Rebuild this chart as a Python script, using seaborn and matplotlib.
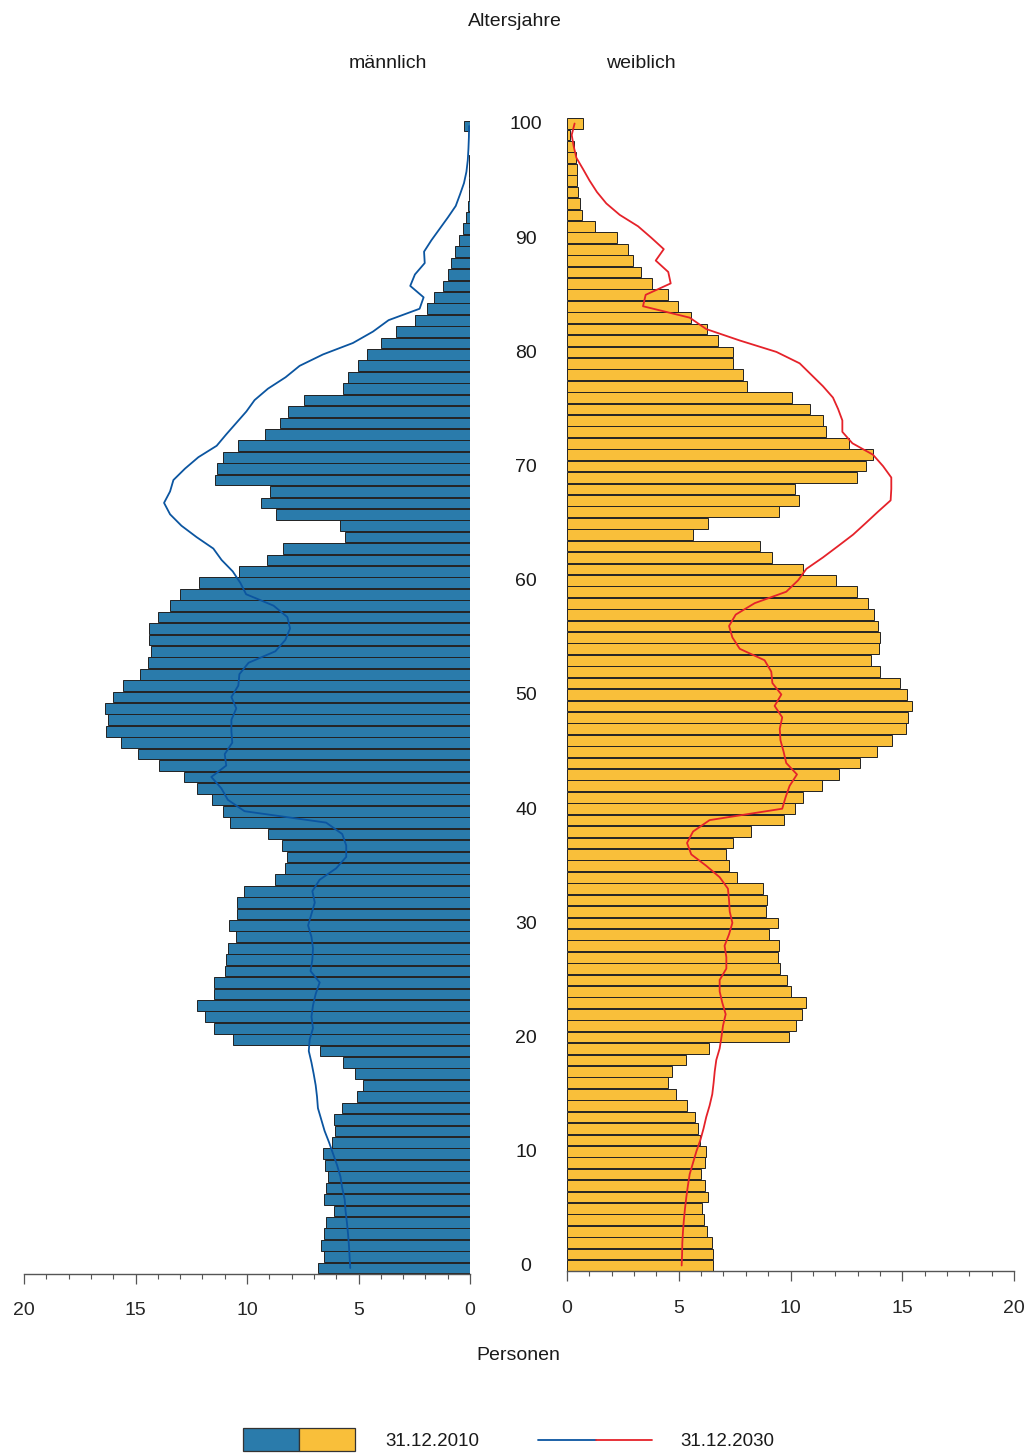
import matplotlib
matplotlib.use("Agg")
import matplotlib.pyplot as plt
import matplotlib.transforms as mtransforms
from matplotlib.patches import Rectangle
from matplotlib.ticker import MultipleLocator
import seaborn as sns

# Altersjahre 0..100, Anteile in Personen (gelesen aus der Vorlage)
ages = list(range(101))

male_2010 = [
    6.80, 6.53, 6.68, 6.55, 6.46, 6.10, 6.55, 6.46, 6.35, 6.49,
    6.59, 6.19, 6.04, 6.08, 5.72, 5.08, 4.81, 5.16, 5.70, 6.73,
    10.63, 11.48, 11.89, 12.25, 11.48, 11.48, 10.99, 10.96, 10.85, 10.49,
    10.79, 10.46, 10.45, 10.13, 8.76, 8.30, 8.19, 8.43, 9.08, 10.76,
    11.06, 11.55, 12.23, 12.82, 13.93, 14.89, 15.65, 16.32, 16.25, 16.37,
    16.01, 15.56, 14.78, 14.44, 14.32, 14.39, 14.39, 13.99, 13.45, 13.00,
    12.15, 10.34, 9.10, 8.39, 5.59, 5.81, 8.68, 9.37, 8.98, 11.43,
    11.33, 11.09, 10.42, 9.19, 8.52, 8.15, 7.43, 5.70, 5.49, 5.02,
    4.62, 3.98, 3.30, 2.47, 1.94, 1.61, 1.20, 0.97, 0.84, 0.67,
    0.51, 0.31, 0.16, 0.09, 0.06, 0.05, 0.04, 0.03, 0.02, 0.02,
    0.27,
]

male_2030 = [
    5.37, 5.40, 5.43, 5.47, 5.52, 5.58, 5.62, 5.73, 5.81, 5.96,
    6.14, 6.32, 6.52, 6.67, 6.82, 6.86, 6.92, 7.01, 7.11, 7.23,
    7.19, 7.04, 7.11, 7.04, 6.92, 6.74, 7.15, 7.07, 7.04, 7.11,
    7.26, 7.11, 6.96, 7.07, 6.74, 6.00, 5.55, 5.55, 5.73, 6.45,
    10.11, 10.86, 11.15, 11.60, 10.93, 11.00, 10.66, 10.70, 10.70, 10.48,
    10.70, 10.39, 10.34, 9.93, 8.73, 8.28, 8.07, 8.19, 8.81, 10.04,
    10.30, 10.64, 11.14, 11.51, 12.26, 12.94, 13.45, 13.72, 13.45, 13.30,
    12.78, 12.18, 11.36, 10.93, 10.48, 10.03, 9.66, 9.06, 8.27, 7.64,
    6.59, 5.25, 4.35, 3.65, 2.26, 2.08, 2.68, 2.47, 2.03, 2.06,
    1.73, 1.36, 0.99, 0.64, 0.45, 0.27, 0.16, 0.10, 0.07, 0.05,
    0.04,
]

female_2010 = [
    6.53, 6.52, 6.49, 6.26, 6.13, 6.04, 6.29, 6.17, 6.00, 6.16,
    6.22, 5.94, 5.86, 5.73, 5.37, 4.88, 4.53, 4.68, 5.31, 6.37,
    9.95, 10.25, 10.51, 10.68, 10.02, 9.84, 9.52, 9.44, 9.49, 9.05,
    9.44, 8.90, 8.95, 8.77, 7.61, 7.25, 7.11, 7.41, 8.23, 9.72,
    10.22, 10.56, 11.42, 12.17, 13.12, 13.89, 14.56, 15.18, 15.26, 15.45,
    15.21, 14.90, 14.00, 13.62, 13.94, 13.99, 13.90, 13.74, 13.48, 12.98,
    12.05, 10.56, 9.16, 8.65, 5.64, 6.32, 9.47, 10.38, 10.20, 12.98,
    13.38, 13.69, 12.62, 11.57, 11.45, 10.87, 10.07, 8.05, 7.87, 7.44,
    7.43, 6.77, 6.28, 5.53, 4.97, 4.52, 3.82, 3.30, 2.95, 2.73,
    2.24, 1.27, 0.67, 0.57, 0.48, 0.45, 0.45, 0.39, 0.30, 0.12,
    0.73,
]

female_2030 = [
    5.13, 5.15, 5.16, 5.19, 5.23, 5.28, 5.34, 5.41, 5.49, 5.64,
    5.79, 5.97, 6.11, 6.23, 6.38, 6.50, 6.56, 6.61, 6.68, 6.83,
    6.91, 6.98, 7.10, 6.95, 6.83, 6.83, 7.13, 7.13, 7.05, 7.25,
    7.40, 7.28, 7.25, 7.20, 6.83, 6.23, 5.56, 5.37, 5.64, 6.38,
    9.63, 9.78, 9.96, 10.29, 9.81, 9.69, 9.55, 9.52, 9.63, 9.29,
    9.59, 9.19, 9.14, 8.84, 7.73, 7.40, 7.25, 7.55, 8.40, 9.81,
    10.34, 10.71, 11.45, 12.13, 12.80, 13.36, 13.91, 14.48, 14.51, 14.51,
    14.14, 13.69, 12.77, 12.32, 12.32, 12.13, 11.90, 11.45, 10.93, 10.41,
    9.37, 7.73, 6.23, 5.49, 3.40, 3.52, 4.64, 4.53, 3.97, 4.33,
    3.77, 3.18, 2.36, 1.76, 1.34, 1.01, 0.72, 0.42, 0.30, 0.21,
    0.34,
]

x_ticks = [0, 5, 10, 15, 20]
age_ticks = list(range(0, 101, 10))

BLUE_BAR = "#2A7BAB"
YELLOW_BAR = "#F9BF3A"
BLUE_LINE = "#0B55A0"
RED_LINE = "#E5222A"
EDGE = "#222222"
AXIS = "#555555"

sns.set_theme(style="white")
plt.rcParams["font.family"] = ["Liberation Sans", "DejaVu Sans"]
plt.rcParams["text.color"] = "#1a1a1a"

W, H = 1032, 1455
fig = plt.figure(figsize=(W / 100, H / 100), dpi=100)


def px_axes(left, right, bottom, top):
    return fig.add_axes([left / W, (H - bottom) / H, (right - left) / W, (bottom - top) / H])


ax_m = px_axes(24, 470, 1273.7, 114.6)
ax_f = px_axes(567, 1014, 1271.2, 112.1)

sns.barplot(x=male_2010, y=ages, orient="y", native_scale=True, ax=ax_m,
            color=BLUE_BAR, saturation=1, edgecolor=EDGE, linewidth=0.7,
            width=0.94, errorbar=None)
sns.barplot(x=female_2010, y=ages, orient="y", native_scale=True, ax=ax_f,
            color=YELLOW_BAR, saturation=1, edgecolor=EDGE, linewidth=0.7,
            width=0.94, errorbar=None)

sns.lineplot(x=male_2030, y=ages, sort=False, estimator=None, orient="y",
             ax=ax_m, color=BLUE_LINE, linewidth=1.3)
sns.lineplot(x=female_2030, y=ages, sort=False, estimator=None, orient="y",
             ax=ax_f, color=RED_LINE, linewidth=1.3)

for ax in (ax_m, ax_f):
    ax.set_ylim(-0.5, 101)
    ax.set_xlabel("")
    ax.set_ylabel("")
    ax.set_yticks([])
    ax.set_xticks(x_ticks)
    ax.set_xticklabels([str(t) for t in x_ticks])
    ax.xaxis.set_minor_locator(MultipleLocator(1))
    ax.tick_params(axis="x", which="major", direction="out", length=7.5,
                   width=0.9, color=AXIS, labelsize=14, pad=13, bottom=True)
    ax.tick_params(axis="x", which="minor", direction="out", length=3.5,
                   width=0.8, color=AXIS, bottom=True)
    for side in ("top", "left", "right"):
        ax.spines[side].set_visible(False)
    ax.spines["bottom"].set_color(AXIS)
    ax.spines["bottom"].set_linewidth(1.0)
    ax.patch.set_visible(False)
    leg = ax.get_legend()
    if leg is not None:
        leg.remove()

ax_m.set_xlim(20, 0)
ax_f.set_xlim(0, 20)

# Altersjahre-Beschriftung in der Mitte
trans = mtransforms.blended_transform_factory(fig.transFigure, ax_m.transData)
for a in age_ticks:
    fig.text(526 / W, a + 0.1, str(a), transform=trans, ha="center", va="center", fontsize=14)

fig.text(515 / W, 1 - 21 / H, "Altersjahre", ha="center", va="center", fontsize=14)
fig.text(388 / W, 1 - 63 / H, "männlich", ha="center", va="center", fontsize=14)
fig.text(641 / W, 1 - 63 / H, "weiblich", ha="center", va="center", fontsize=14)
fig.text(518 / W, 1 - 1356 / H, "Personen", ha="center", va="center", fontsize=14)

# Legende
ax_leg = fig.add_axes([0, 0, 1, 1])
ax_leg.set_xlim(0, W)
ax_leg.set_ylim(H, 0)
ax_leg.axis("off")
ax_leg.patch.set_visible(False)
ax_leg.add_patch(Rectangle((243, 1428), 56, 23, facecolor=BLUE_BAR, edgecolor="#333333", linewidth=0.9))
ax_leg.add_patch(Rectangle((299, 1428), 56, 23, facecolor=YELLOW_BAR, edgecolor="#333333", linewidth=0.9))
ax_leg.text(385, 1441, "31.12.2010", ha="left", va="center", fontsize=13.5)
ax_leg.plot([538, 596], [1440, 1440], color=BLUE_LINE, linewidth=1.3)
ax_leg.plot([596, 652], [1440, 1440], color=RED_LINE, linewidth=1.3)
ax_leg.text(680, 1441, "31.12.2030", ha="left", va="center", fontsize=13.5)

fig.savefig("out.png", dpi=100)
